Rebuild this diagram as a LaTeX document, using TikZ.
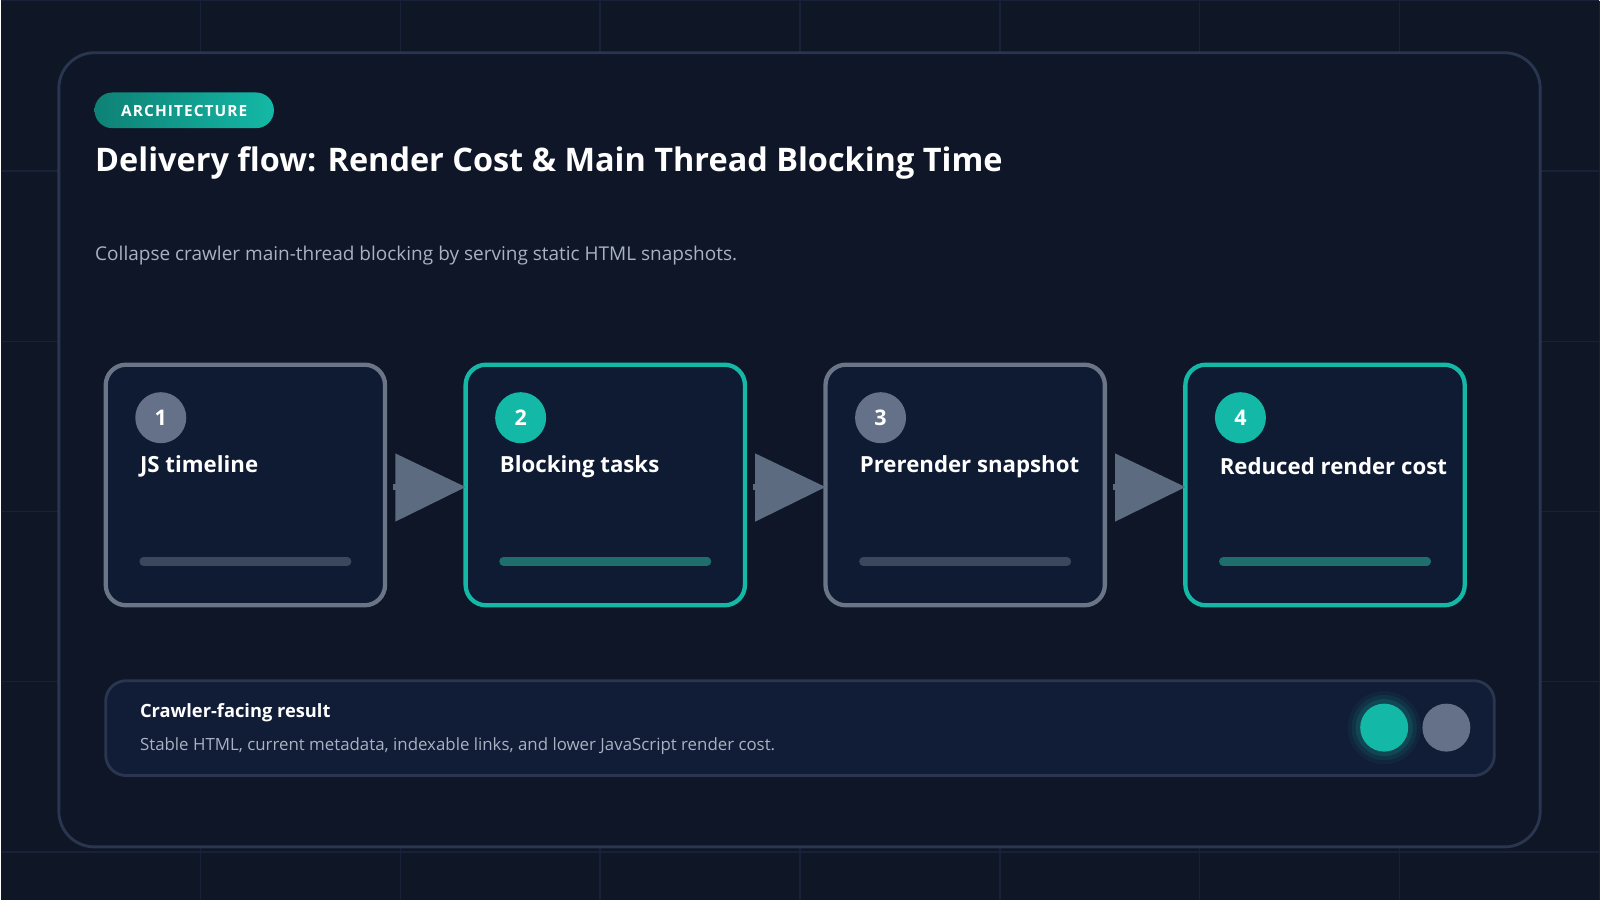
\documentclass[tikz,border=0pt]{standalone}
\usepackage{fontspec}
\setmainfont{Open Sans}[BoldFont={Open Sans Bold}]
\definecolor{bgdark}{HTML}{0F1626}
\definecolor{gridc}{HTML}{18213A}
\definecolor{panel}{HTML}{0E1627}
\definecolor{panelline}{HTML}{2A3550}
\definecolor{cardfill}{HTML}{0F1A33}
\definecolor{greyline}{HTML}{6B7588}
\definecolor{tealc}{HTML}{14B8A6}
\definecolor{badgegrey}{HTML}{647189}
\definecolor{bargrey}{HTML}{3A475C}
\definecolor{barteal}{HTML}{1E6E6C}
\definecolor{arrowc}{HTML}{5C6B80}
\definecolor{subtext}{HTML}{A8B2C2}
\definecolor{boxfill}{HTML}{111C36}
\tikzset{
  card/.style={draw=#1, line width=1.2pt, fill=cardfill, rounded corners=0.2cm},
  badge/.style={circle, fill=#1, minimum size=0.5cm, inner sep=0pt, text=white, font=\fontsize{6}{7}\selectfont\bfseries},
  label/.style={anchor=west, text=white, font=\fontsize{6.2}{7}\selectfont\bfseries, inner sep=0pt},
  bar/.style={line width=0.08cm, line cap=round, draw=#1},
  flowtip/.style={fill=arrowc, draw=none},
}
\begin{document}
\begin{tikzpicture}[x=0.01cm,y=-0.01cm]
\fill[bgdark] (0,0) rectangle (1568,882);
\foreach \gx in {196,392,...,1568} \draw[gridc] (\gx,0) -- (\gx,882);
\foreach \gy in {0,167,334,501,668,835} \draw[gridc] (0,\gy) -- (1568,\gy);
\useasboundingbox (0,0) rectangle (1568,882);

%panel
\path[draw=panelline, fill=panel, rounded corners=0.35cm, line width=0.8pt] (57,51) rectangle (1510,830);
\path[left color=tealc!70!black, right color=tealc, rounded corners=0.175cm] (92,90) rectangle (268,125);
\node[text=white, font=\fontsize{4.3}{5}\selectfont\bfseries] (tag) at (180,108) {A\kern.3pt R\kern.3pt C\kern.3pt H\kern.3pt I\kern.3pt T\kern.3pt E\kern.3pt C\kern.3pt T\kern.3pt U\kern.3pt R\kern.3pt E};
\node[anchor=west, text=white, inner sep=0pt, font=\fontsize{9.05}{10}\selectfont\bfseries] (title) at (92,159) {Delivery flow: Render Cost \& Main Thread Blocking Time};
\node[anchor=west, text=subtext, inner sep=0pt, font=\fontsize{5.3}{6}\selectfont] (sub) at (92,250) {Collapse crawler main-thread blocking by serving static HTML snapshots.};

%cards
\foreach \i/\x/\c/\b/\t in {1/103/greyline/badgegrey/JS timeline,
  2/456/tealc/tealc/Blocking tasks,
  3/809/greyline/badgegrey/Prerender snapshot,
  4/1162/tealc/tealc/Reduced render cost}{
  \path[card=\c] (\x,357) rectangle ++(274,236);
  \node[badge=\b] (b\i) at (\x+54,409) {\i};
  \node[label] (l\i) at (\x+33,457) {\t};
  \ifnum\i=2 \def\bc{barteal}\else\ifnum\i=4 \def\bc{barteal}\else\def\bc{bargrey}\fi\fi
  \path[bar=\bc] (\x+37,550) -- (\x+237,550);
}
%arrows
\foreach \x in {385,738,1091}{
  \path[flowtip] (\x+2,444) -- (\x+71,477) -- (\x+2,511) -- cycle;
  \path[draw=arrowc, line width=1.5pt] (\x,477) -- (\x+10,477);
}

%result box
\path[draw=panelline, fill=boxfill, rounded corners=0.2cm, line width=0.8pt] (103,667) rectangle (1465,760);
\node[label, font=\fontsize{5.1}{6}\selectfont\bfseries] (rt) at (136,698) {Crawler-facing result};
\node[anchor=west, inner sep=0pt, text=subtext, font=\fontsize{4.7}{6}\selectfont] (rd) at (136,731) {Stable HTML, current metadata, indexable links, and lower JavaScript render cost.};
\foreach \r/\o in {36/0.06,32/0.1,28/0.15} \fill[tealc, opacity=\o] (1357,713) circle (\r);
\node[circle, fill=tealc, minimum size=0.47cm, inner sep=0pt] (d1) at (1357,713) {};
\node[circle, fill=badgegrey, minimum size=0.47cm, inner sep=0pt] (d2) at (1418,713) {};
\end{tikzpicture}
\end{document}
